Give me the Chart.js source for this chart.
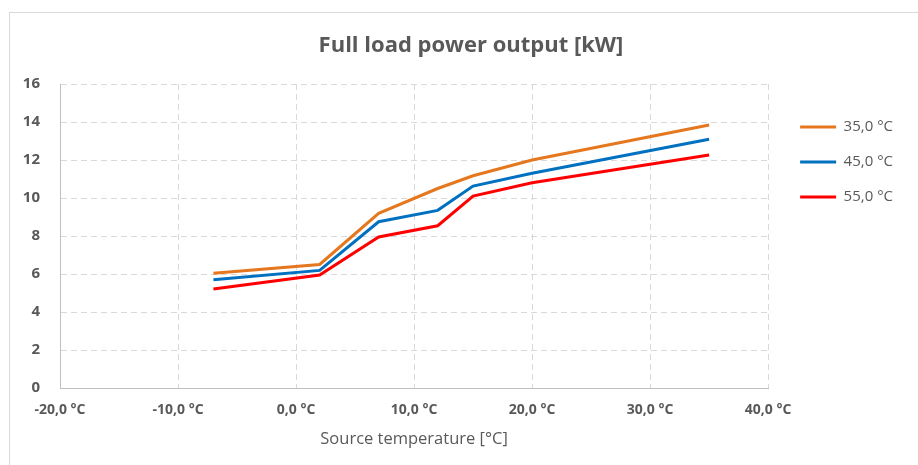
<!DOCTYPE html>
<html>
<head>
<meta charset="utf-8">
<script src="https://cdn.jsdelivr.net/npm/chart.js@4"></script>
<style>
  html, body { margin: 0; padding: 0; background: #fff; overflow: hidden; }
  body { width: 918px; height: 465px; position: relative; }
  #frame { position: absolute; left: 9px; top: 12px; width: 960px; height: 500px;
           border: 1px solid #d9d9d9; box-sizing: border-box; }
  #chart { position: absolute; left: 10px; top: 13px; }
</style>
</head>
<body>
<div id="frame"></div>
<canvas id="chart" width="922" height="460"></canvas>
<script>
'use strict'

// source temperature [°C]
const temps = [-7, 2, 7, 12, 15, 20, 35]
// full load power output [kW] per flow temperature
const out35 = [6.04, 6.5, 9.19, 10.5, 11.17, 12.0, 13.84]
const out45 = [5.7, 6.19, 8.75, 9.35, 10.63, 11.3, 13.09]
const out55 = [5.21, 5.95, 7.95, 8.54, 10.1, 10.8, 12.26]
const seriesLabels = ['35,0 °C', '45,0 °C', '55,0 °C']
const seriesColors = ['#e5771e', '#0070c0', '#ff0000']

const grey = '#595959'

function pts(vals){
  return temps.map((t, i) => ({x: t, y: vals[i]}))
}

const datasets = [out35, out45, out55].map((vals, i) => ({
  label: seriesLabels[i],
  data: pts(vals),
  borderColor: seriesColors[i],
  backgroundColor: seriesColors[i],
  borderWidth: 3,
  pointRadius: 0,
  tension: 0,
  fill: false
}))

// nudge legend next to the plot and center the title on the whole frame
const legendShift = {
  id: 'legendShift',
  afterLayout(chart){
    const lg = chart.legend
    const w = lg.width, h = lg.height
    lg.left = chart.chartArea.right + 12
    lg.right = lg.left + w
    lg.top = chart.chartArea.top + 15.5
    lg.bottom = lg.top + h
    const t = chart.titleBlock
    t.left = 0
    t.right = chart.width
  }
}

new Chart(document.getElementById('chart'), {
  type: 'line',
  data: { datasets: datasets },
  plugins: [legendShift],
  options: {
    responsive: false,
    animation: false,
    layout: { padding: { left: 0, right: 41, top: 0, bottom: 0 } },
    plugins: {
      tooltip: { enabled: false },
      title: {
        display: true,
        text: 'Full load power output [kW]',
        color: grey,
        font: { family: 'Open Sans', size: 22, weight: 'bold' },
        padding: { top: 19.5, bottom: 25.1 }
      },
      legend: {
        position: 'right',
        align: 'start',
        labels: {
          usePointStyle: true,
          pointStyle: 'line',
          pointStyleWidth: 36,
          padding: 20,
          color: grey,
          font: { family: 'Open Sans', size: 15 }
        }
      }
    },
    scales: {
      x: {
        type: 'linear',
        min: -20,
        max: 40,
        afterFit(scale){ scale.height = 85 },
        ticks: {
          stepSize: 10,
          padding: 13.6,
          color: grey,
          font: { family: 'Open Sans', size: 14, weight: 'bold' },
          callback: v => v.toFixed(1).replace('.', ',') + ' °C'
        },
        grid: { color: '#d9d9d9', drawTicks: false },
        border: { display: true, color: '#bfbfbf', width: 1, dash: [6, 4] },
        title: {
          display: true,
          text: 'Source temperature [°C]',
          color: grey,
          font: { family: 'Open Sans', size: 16.5 },
          padding: { top: 0, bottom: 24 }
        }
      },
      y: {
        min: 0,
        max: 16,
        afterFit(scale){ scale.width = 50 },
        ticks: {
          stepSize: 2,
          padding: 20,
          color: grey,
          font: { family: 'Open Sans', size: 15, weight: 'bold' }
        },
        grid: { color: '#d9d9d9', drawTicks: false },
        border: { display: true, color: '#bfbfbf', width: 1, dash: [6, 4] }
      }
    }
  }
})
</script>
</body>
</html>
